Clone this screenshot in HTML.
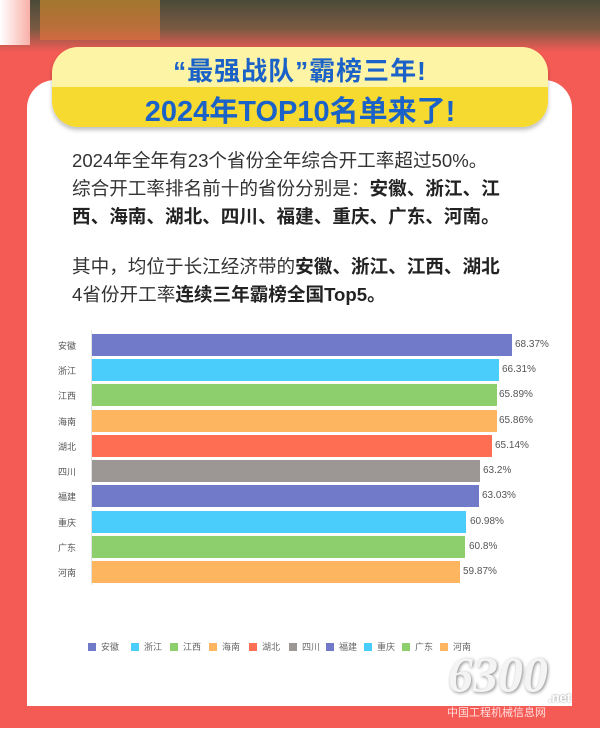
<!DOCTYPE html>
<html><head><meta charset="utf-8"><style>
*{margin:0;padding:0;box-sizing:border-box}
body{width:600px;height:734px;position:relative;overflow:hidden;background:#fff;font-family:"Liberation Sans","Noto Sans CJK SC",sans-serif}
.abs{position:absolute}
.t{position:absolute;left:72px;font-size:18.6px;color:#333;white-space:nowrap;letter-spacing:0}
.t b{color:#222;font-weight:600}
.lab{position:absolute;left:52px;width:30px;font-size:9px;color:#555;text-align:center}
.bar{position:absolute;left:92px;height:22px}
.val{position:absolute;font-size:10px;color:#555}
.lg{position:absolute;top:640px;font-size:9px;color:#666;white-space:nowrap}
.lg i{display:inline-block;width:8px;height:8px;vertical-align:-1px;margin-right:5px}
</style></head><body>
<div class="abs" style="left:0;top:0;width:600px;height:728px;background:#f45b55"></div>
<div class="abs" style="left:0;top:0;width:600px;height:52px;background:linear-gradient(#4a4a38,#7a5a42 55%,#f45b55)"></div>
<div class="abs" style="left:40px;top:0;width:120px;height:40px;background:linear-gradient(#c88a2a,#e0703c);opacity:.7"></div>
<div class="abs" style="left:0;top:0;width:30px;height:45px;background:linear-gradient(90deg,#fff,#f8b0a8)"></div>
<div class="abs" style="left:0;top:728px;width:600px;height:6px;background:#fff"></div>
<div class="abs" style="left:27px;top:80px;width:545px;height:626px;background:#fff;border-radius:28px 28px 0 0"></div>
<div class="abs" style="left:52px;top:47px;width:496px;height:80px;border-radius:26px;overflow:hidden;box-shadow:0 3px 4px rgba(0,0,0,.25)">
<div style="height:40px;background:#fdf4a6"></div><div style="height:40px;background:#f6da30"></div></div>
<div class="abs" style="left:52px;top:51px;width:496px;text-align:center;font-size:26px;font-weight:bold;color:#1b62c8;letter-spacing:1px">“最强战队”霸榜三年!</div>
<div class="abs" style="left:52px;top:88px;width:496px;text-align:center;font-size:29px;font-weight:bold;color:#1b62c8">2024年TOP10名单来了!</div>
<div class="t" style="top:146px">2024年全年有23个省份全年综合开工率超过50%。</div>
<div class="t" style="top:174px">综合开工率排名前十的省份分别是：<b>安徽、浙江、江</b></div>
<div class="t" style="top:202px"><b>西、海南、湖北、四川、福建、重庆、广东、河南。</b></div>
<div class="t" style="top:252px">其中，均位于长江经济带的<b>安徽、浙江、江西、湖北</b></div>
<div class="t" style="top:280px">4省份开工率<b>连续三年霸榜全国Top5。</b></div>
<div class="abs" style="left:91px;top:330px;width:1px;height:255px;background:#e4e4e4"></div>
<div class="lab" style="top:339px">安徽</div><div class="bar" style="top:334px;width:420px;background:#7179c9"></div><div class="val" style="left:515px;top:339px">68.37%</div>
<div class="lab" style="top:364px">浙江</div><div class="bar" style="top:359px;width:407px;background:#4bcdfc"></div><div class="val" style="left:502px;top:364px">66.31%</div>
<div class="lab" style="top:389px">江西</div><div class="bar" style="top:384px;width:405px;background:#8ccf6c"></div><div class="val" style="left:499px;top:389px">65.89%</div>
<div class="lab" style="top:415px">海南</div><div class="bar" style="top:410px;width:405px;background:#fdb65f"></div><div class="val" style="left:499px;top:415px">65.86%</div>
<div class="lab" style="top:440px">湖北</div><div class="bar" style="top:435px;width:400px;background:#fd6e52"></div><div class="val" style="left:495px;top:440px">65.14%</div>
<div class="lab" style="top:465px">四川</div><div class="bar" style="top:460px;width:388px;background:#9c9695"></div><div class="val" style="left:483px;top:465px">63.2%</div>
<div class="lab" style="top:490px">福建</div><div class="bar" style="top:485px;width:387px;background:#7179c9"></div><div class="val" style="left:482px;top:490px">63.03%</div>
<div class="lab" style="top:516px">重庆</div><div class="bar" style="top:511px;width:374px;background:#4bcdfc"></div><div class="val" style="left:470px;top:516px">60.98%</div>
<div class="lab" style="top:541px">广东</div><div class="bar" style="top:536px;width:373px;background:#8ccf6c"></div><div class="val" style="left:469px;top:541px">60.8%</div>
<div class="lab" style="top:566px">河南</div><div class="bar" style="top:561px;width:368px;background:#fdb65f"></div><div class="val" style="left:463px;top:566px">59.87%</div>
<div class="lg" style="left:88px"><i style="background:#7179c9"></i>安徽</div>
<div class="lg" style="left:131px"><i style="background:#4bcdfc"></i>浙江</div>
<div class="lg" style="left:170px"><i style="background:#8ccf6c"></i>江西</div>
<div class="lg" style="left:209px"><i style="background:#fdb65f"></i>海南</div>
<div class="lg" style="left:249px"><i style="background:#fd6e52"></i>湖北</div>
<div class="lg" style="left:289px"><i style="background:#9c9695"></i>四川</div>
<div class="lg" style="left:326px"><i style="background:#7179c9"></i>福建</div>
<div class="lg" style="left:364px"><i style="background:#4bcdfc"></i>重庆</div>
<div class="lg" style="left:402px"><i style="background:#8ccf6c"></i>广东</div>
<div class="lg" style="left:440px"><i style="background:#fdb65f"></i>河南</div>
<div class="abs" style="left:448px;top:645px;font-size:50px;font-style:italic;font-weight:bold;color:#f4f4f4;font-family:'Liberation Serif',serif;text-shadow:1px 1px 3px #888">6300</div>
<div class="abs" style="left:548px;top:690px;font-size:13px;color:#fff;font-weight:bold;text-shadow:0 0 2px #888">.net</div>
<div class="abs" style="left:447px;top:704px;font-size:11px;color:#fdd;white-space:nowrap">中国工程机械信息网</div>
</body></html>
